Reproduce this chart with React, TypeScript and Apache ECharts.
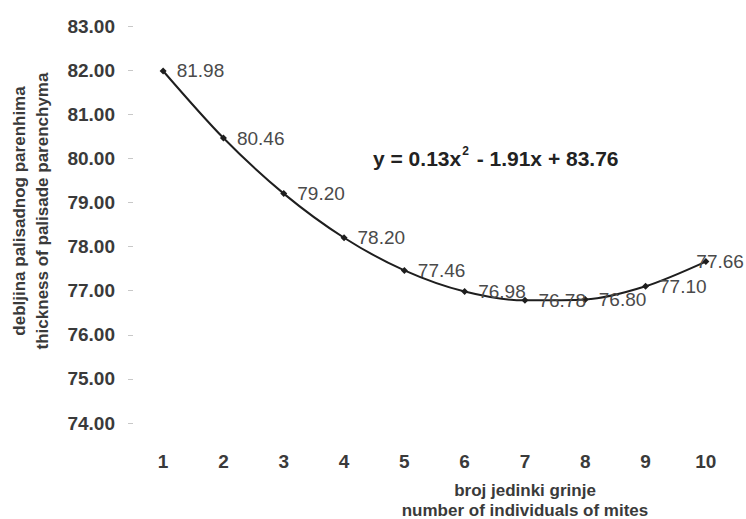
import React, { useEffect, useRef } from "react";
import * as echarts from "echarts";

const categories = ["1", "2", "3", "4", "5", "6", "7", "8", "9", "10"];
const values = [81.98, 80.46, 79.2, 78.2, 77.46, 76.98, 76.78, 76.8, 77.1, 77.66];
const yTicks = { min: 74, max: 83, interval: 1 };
const yName = ["debljina palisadnog parenhima", "thickness of palisade parenchyma"];
const xName = ["broj jedinki grinje", "number of individuals of mites"];
const equation = ["y = 0.13x", "2", " - 1.91x + 83.76"];

export default function App() {
  const ref = useRef<HTMLDivElement>(null);
  useEffect(() => {
    const chart = echarts.init(ref.current!, undefined, { renderer: "svg" });
    const font = "Liberation Sans, Arial, sans-serif";
    const last = values.length - 1;
    chart.setOption({
      animation: false,
      backgroundColor: "#fff",
      grid: { left: 133, right: 10, top: 26, bottom: 96 },
      xAxis: {
        type: "category",
        data: categories,
        boundaryGap: true,
        axisLine: { show: false },
        axisTick: { show: false },
        axisLabel: { margin: 29, fontSize: 19, fontWeight: "bold", color: "#3a3a3a", fontFamily: font },
        splitLine: { show: false },
      },
      yAxis: {
        type: "value",
        min: yTicks.min,
        max: yTicks.max,
        interval: yTicks.interval,
        axisLine: { show: false },
        axisTick: { show: true, length: 5, lineStyle: { color: "#c8c8c8" } },
        splitLine: { show: false },
        axisLabel: {
          margin: 18,
          fontSize: 19,
          fontWeight: "bold",
          color: "#3a3a3a",
          fontFamily: font,
          formatter: (v: number) => v.toFixed(2),
        },
      },
      series: [
        {
          type: "line",
          data: values.map((v, i) =>
            i === last ? { value: v, label: { offset: [-23, 0] } } : v
          ),
          smooth: 0.3,
          symbol: "diamond",
          symbolSize: 7,
          lineStyle: { color: "#1e1e1e", width: 2 },
          itemStyle: { color: "#1e1e1e" },
          label: {
            show: true,
            position: "right",
            distance: 10,
            fontSize: 19,
            color: "#4a4a4a",
            fontFamily: font,
            formatter: (p: any) => Number(p.value).toFixed(2),
          },
        },
      ],
      graphic: [
        {
          type: "text",
          x: 19,
          y: 211,
          rotation: Math.PI / 2,
          style: {
            text: yName[0],
            textAlign: "center",
            textVerticalAlign: "middle",
            fontSize: 17,
            fontWeight: "bold",
            fill: "#3a3a3a",
            fontFamily: font,
          },
        },
        {
          type: "text",
          x: 42,
          y: 211,
          rotation: Math.PI / 2,
          style: {
            text: yName[1],
            textAlign: "center",
            textVerticalAlign: "middle",
            fontSize: 17,
            fontWeight: "bold",
            fill: "#3a3a3a",
            fontFamily: font,
          },
        },
        {
          type: "text",
          x: 525,
          y: 490,
          style: {
            text: xName[0],
            textAlign: "center",
            textVerticalAlign: "middle",
            fontSize: 17,
            fontWeight: "bold",
            fill: "#3a3a3a",
            fontFamily: font,
          },
        },
        {
          type: "text",
          x: 525,
          y: 510,
          style: {
            text: xName[1],
            textAlign: "center",
            textVerticalAlign: "middle",
            fontSize: 17,
            fontWeight: "bold",
            fill: "#3a3a3a",
            fontFamily: font,
          },
        },
        {
          type: "text",
          x: 373,
          y: 158,
          style: {
            text: `{n|${equation[0]}}{s|${equation[1]}}{n|${equation[2]}}`,
            textVerticalAlign: "middle",
            fontFamily: font,
            rich: {
              n: { fontSize: 21, fontWeight: "bold", fill: "#222", fontFamily: font },
              s: { fontSize: 12, fontWeight: "bold", fill: "#222", fontFamily: font, padding: [0, 2, 14, 1] },
            },
          },
        },
      ],
    });
    return () => chart.dispose();
  }, []);
  return (
    <div
      ref={ref}
      style={{ position: "absolute", left: 0, top: 0, width: 746, height: 519 }}
    />
  );
}
